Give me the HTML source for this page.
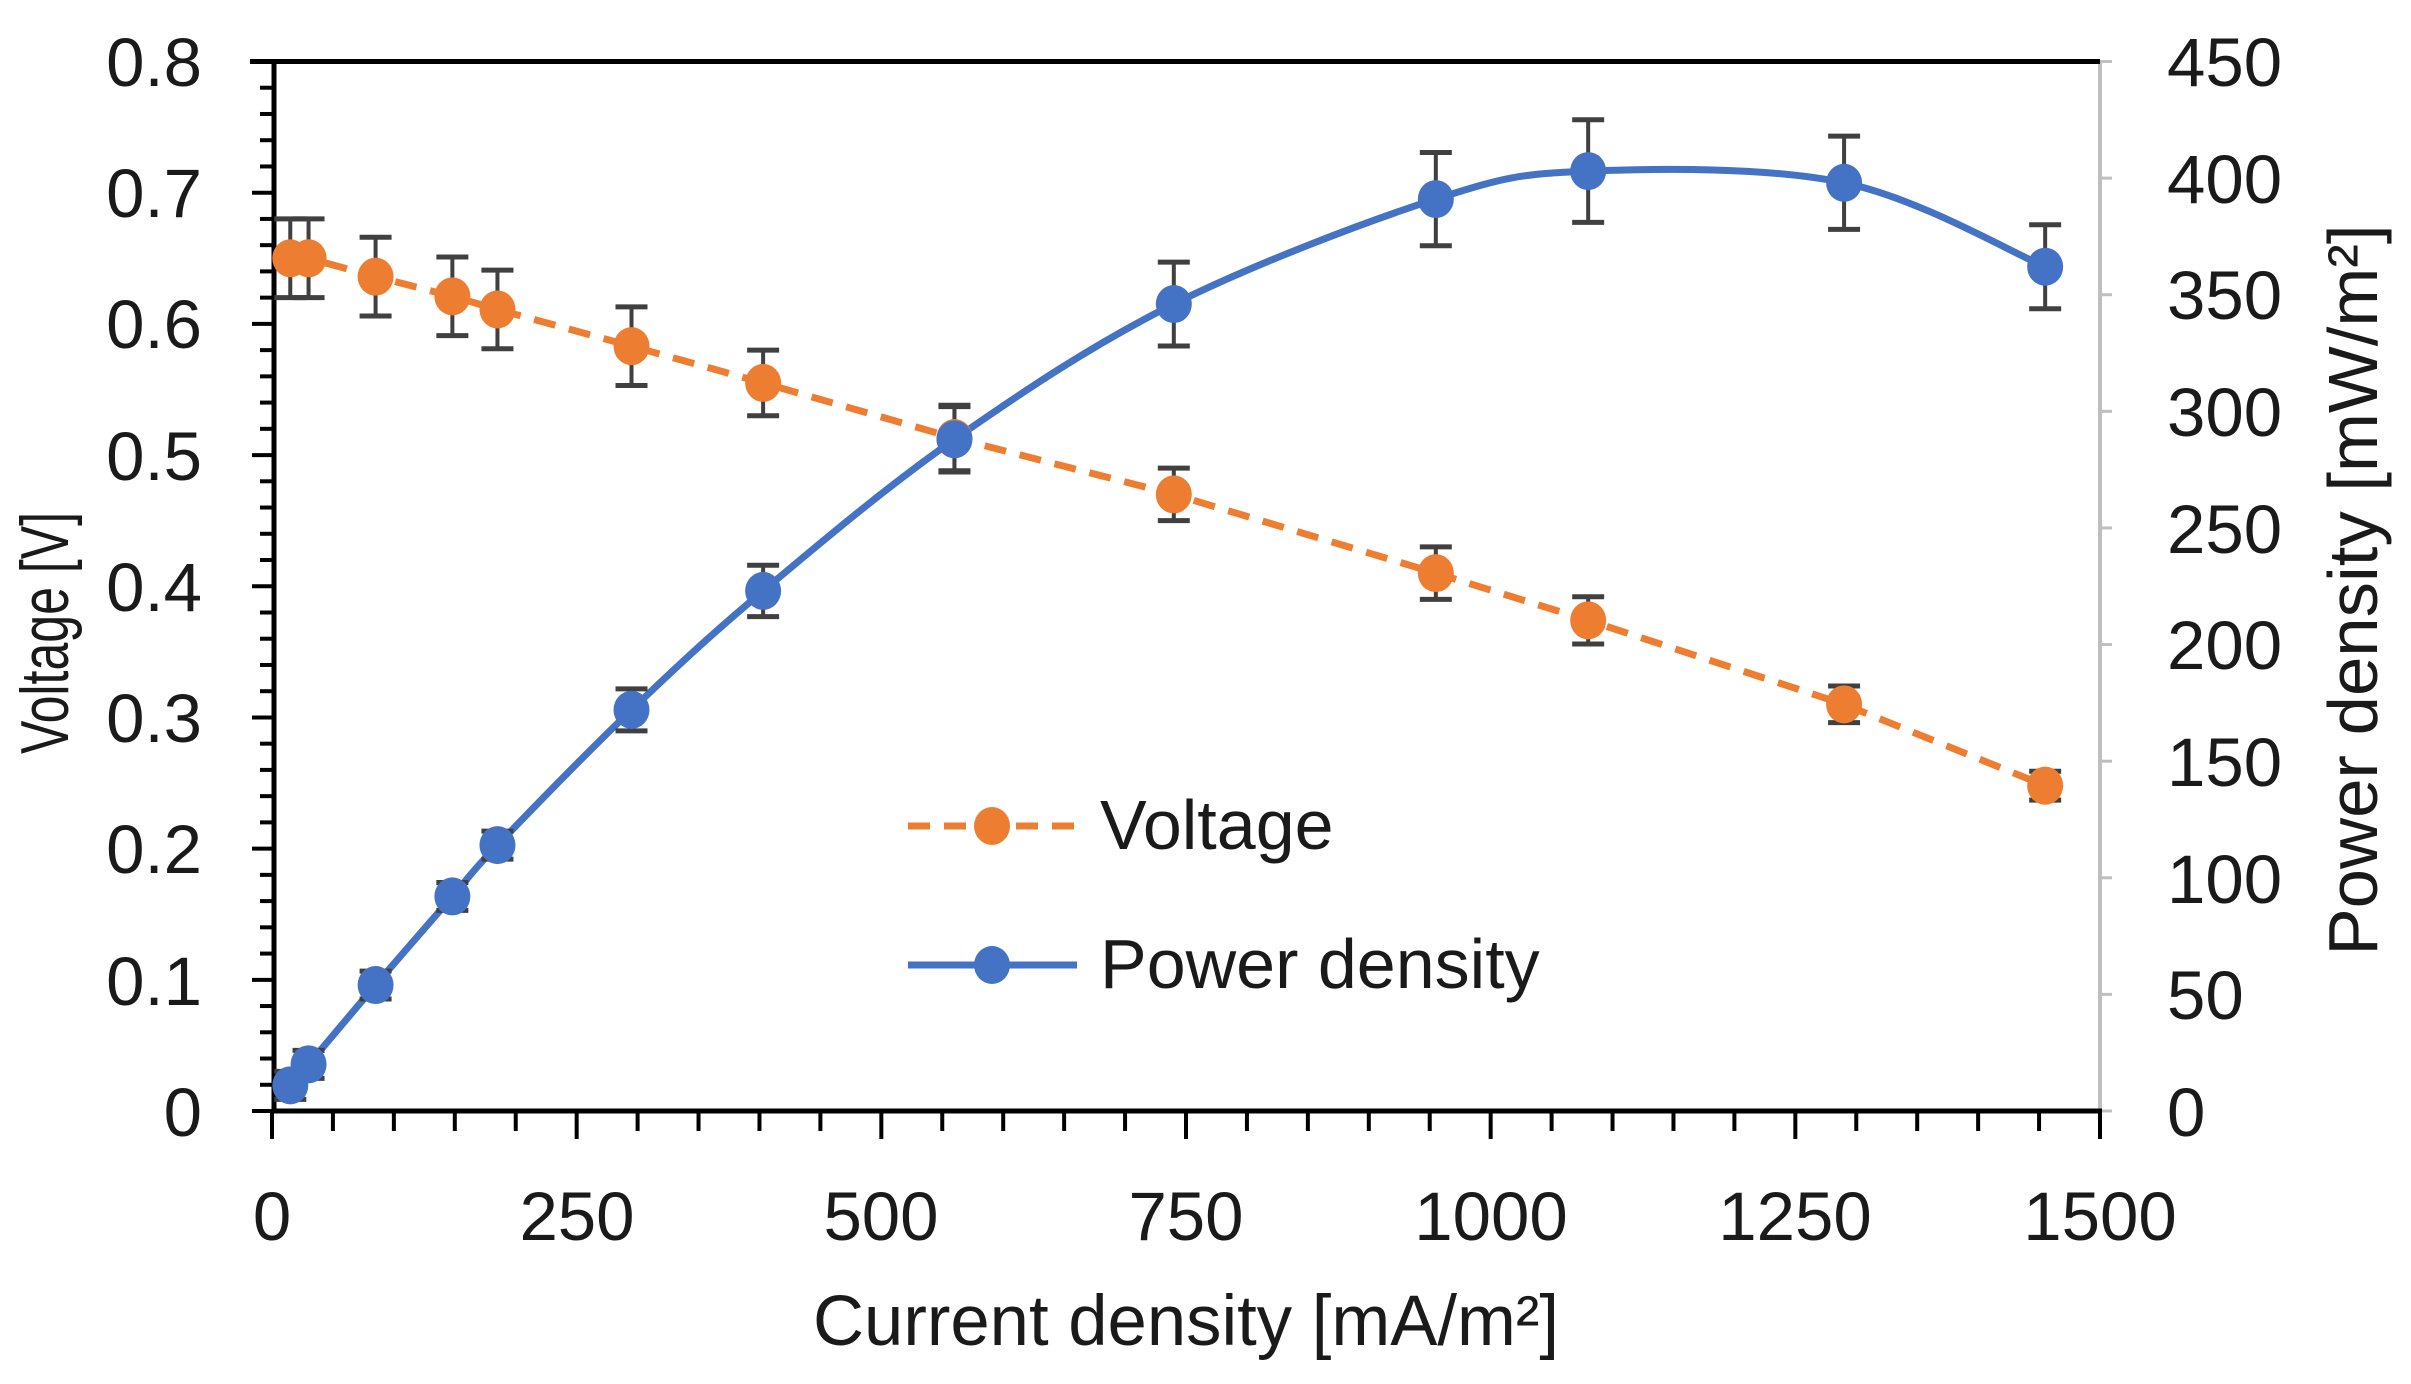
<!DOCTYPE html>
<html><head><meta charset="utf-8"><style>
html,body{margin:0;padding:0;background:#fff;}
svg{display:block;}
text{font-family:"Liberation Sans",sans-serif;fill:#1a1a1a;}
</style></head><body>
<svg id="s" width="2411" height="1384" viewBox="0 0 2411 1384" xmlns="http://www.w3.org/2000/svg">
<rect width="2411" height="1384" fill="#fff"/>
<g id="g"></g>
<g font-size="69">
<text x="202" y="86" text-anchor="end">0.8</text>
<text x="202" y="217" text-anchor="end">0.7</text>
<text x="202" y="348" text-anchor="end">0.6</text>
<text x="202" y="480" text-anchor="end">0.5</text>
<text x="202" y="611" text-anchor="end">0.4</text>
<text x="202" y="742" text-anchor="end">0.3</text>
<text x="202" y="873" text-anchor="end">0.2</text>
<text x="202" y="1005" text-anchor="end">0.1</text>
<text x="202" y="1136" text-anchor="end">0</text>
<text x="2167" y="86">450</text>
<text x="2167" y="203">400</text>
<text x="2167" y="319">350</text>
<text x="2167" y="436">300</text>
<text x="2167" y="553">250</text>
<text x="2167" y="669">200</text>
<text x="2167" y="786">150</text>
<text x="2167" y="903">100</text>
<text x="2167" y="1019">50</text>
<text x="2167" y="1136">0</text>
<text x="272" y="1240" text-anchor="middle">0</text>
<text x="577" y="1240" text-anchor="middle">250</text>
<text x="881" y="1240" text-anchor="middle">500</text>
<text x="1186" y="1240" text-anchor="middle">750</text>
<text x="1491" y="1240" text-anchor="middle">1000</text>
<text x="1795" y="1240" text-anchor="middle">1250</text>
<text x="2100" y="1240" text-anchor="middle">1500</text>
<text x="1186" y="1345" text-anchor="middle" font-size="71" textLength="746" lengthAdjust="spacingAndGlyphs">Current density [mA/m²]</text>
<text transform="translate(68,633) rotate(-90)" text-anchor="middle" font-size="68" textLength="242" lengthAdjust="spacingAndGlyphs">Voltage [V]</text>
<text transform="translate(2377,590) rotate(-90)" text-anchor="middle" font-size="70" textLength="731" lengthAdjust="spacingAndGlyphs">Power density [mW/m²]</text>
<text x="1100" y="849" font-size="70">Voltage</text>
<text x="1100" y="988" font-size="70">Power density</text>
</g>
</svg>
<script>
var g=document.getElementById('g'),h='';
function X(v){return 272+v*(1828/1500);}
function YL(v){return 1111-v*(1049.5/0.8);}
function YR(v){return 1111-v*(1049.5/450);}
h+='<line x1="2100" y1="61" x2="2100" y2="1111" stroke="#bfbfbf" stroke-width="4"/>';
for(var i=0;i<=9;i++){var y=YR(i*50);h+='<line x1="2100" y1="'+y+'" x2="2112" y2="'+y+'" stroke="#bfbfbf" stroke-width="3"/>';}
h+='<line x1="250" y1="61.5" x2="2100" y2="61.5" stroke="#000" stroke-width="5"/>';
h+='<line x1="274" y1="59" x2="274" y2="1113" stroke="#000" stroke-width="5"/>';
h+='<line x1="272" y1="1111" x2="2102" y2="1111" stroke="#000" stroke-width="5"/>';
for(var i=0;i<=40;i++){var y=YL(i*0.02);var L=(i%5==0)?22:14;h+='<line x1="'+(274-L)+'" y1="'+y+'" x2="274" y2="'+y+'" stroke="#000" stroke-width="4"/>';}
for(var i=0;i<=30;i++){var x=X(i*50);var L=(i%5==0)?28:20;h+='<line x1="'+x+'" y1="1111" x2="'+x+'" y2="'+(1111+L)+'" stroke="#000" stroke-width="4"/>';}
var xs=[15,30,85,148,185,295,403,560,740,955,1080,1290,1455];
var vs=[0.65,0.65,0.636,0.621,0.611,0.583,0.555,0.513,0.47,0.41,0.374,0.31,0.248];
var ve=[0.03,0.03,0.03,0.03,0.03,0.03,0.025,0.025,0.02,0.02,0.018,0.014,0.011];
var ps=[11,20,54,92,114,172,223,288,346,391,403,398,362];
var pe=[6,6,6,6,6,9,11,14,18,20,22,20,18];
var P=xs.map(function(x,i){return [X(x),YR(ps[i])];});
var d='M'+P[0][0]+','+P[0][1];
for(var i=0;i<P.length-1;i++){var p0=P[Math.max(0,i-1)],p1=P[i],p2=P[i+1],p3=P[Math.min(P.length-1,i+2)];
var t=1/6;d+=' C'+(p1[0]+(p2[0]-p0[0])*t)+','+(p1[1]+(p2[1]-p0[1])*t)+' '+(p2[0]-(p3[0]-p1[0])*t)+','+(p2[1]-(p3[1]-p1[1])*t)+' '+p2[0]+','+p2[1];}
h+='<path d="'+d+'" fill="none" stroke="#4472c4" stroke-width="7"/>';
var vd='M'+xs.map(function(x,i){return X(x)+','+YL(vs[i]);}).join(' L');
h+='<path d="'+vd+'" fill="none" stroke="#ed7d31" stroke-width="7" stroke-dasharray="22,14"/>';
function eb(x,y1,y2){return '<line x1="'+x+'" y1="'+y1+'" x2="'+x+'" y2="'+y2+'" stroke="#404040" stroke-width="4"/><line x1="'+(x-16)+'" y1="'+y1+'" x2="'+(x+16)+'" y2="'+y1+'" stroke="#404040" stroke-width="5"/><line x1="'+(x-16)+'" y1="'+y2+'" x2="'+(x+16)+'" y2="'+y2+'" stroke="#404040" stroke-width="5"/>';}
for(var i=0;i<xs.length;i++){var x=X(xs[i]);
h+=eb(x,YL(vs[i]+ve[i]),YL(vs[i]-ve[i]));h+=eb(x,YR(ps[i]+pe[i]),YR(ps[i]-pe[i]));}
for(var i=0;i<xs.length;i++){var x=X(xs[i]);
h+='<ellipse cx="'+x+'" cy="'+YL(vs[i])+'" rx="18" ry="19" fill="#ed7d31"/>';
h+='<ellipse cx="'+x+'" cy="'+YR(ps[i])+'" rx="18" ry="19" fill="#4472c4"/>';}
h+='<line x1="908" y1="826" x2="1077" y2="826" stroke="#ed7d31" stroke-width="7" stroke-dasharray="22,14"/><ellipse cx="992" cy="826" rx="18" ry="19" fill="#ed7d31"/>';
h+='<line x1="908" y1="965" x2="1077" y2="965" stroke="#4472c4" stroke-width="7"/><ellipse cx="992" cy="965" rx="18" ry="19" fill="#4472c4"/>';
g.innerHTML=h;
</script>
</body></html>
